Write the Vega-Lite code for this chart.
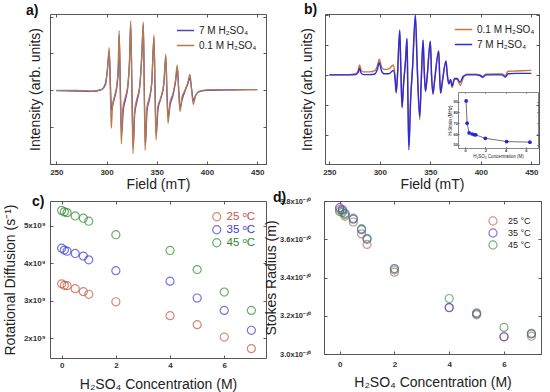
{
  "$schema": "https://vega.github.io/schema/vega-lite/v6.json",
  "background": "white",
  "padding": {"left": 3, "top": 3, "right": 5, "bottom": 3},
  "config": {
    "font": "Liberation Sans",
    "view": {"stroke": null},
    "axis": {"grid": false, "labelFont": "Liberation Sans", "labelFontSize": 8, "labelFontWeight": "bold", "labelColor": "#333", "titleFont": "Liberation Sans", "titleFontSize": 14, "titleFontWeight": "normal", "titleColor": "#222"},
    "legend": {"padding": 0, "title": null, "labelFont": "Liberation Sans"},
    "title": {"fontSize": 14, "fontWeight": "bold", "anchor": "start", "frame": "group", "color": "#111", "font": "Liberation Sans"}
  },
  "datasets": {
    "specA": [
      {"f":250,"v":-0.01,"s":"7 M H₂SO₄"},{"f":270,"v":-0.02,"s":"7 M H₂SO₄"},{"f":285,"v":-0.03,"s":"7 M H₂SO₄"},{"f":295,"v":0.02,"s":"7 M H₂SO₄"},{"f":299,"v":0.2,"s":"7 M H₂SO₄"},{"f":301,"v":0.6,"s":"7 M H₂SO₄"},{"f":302.7,"v":1.05,"s":"7 M H₂SO₄"},{"f":303.8,"v":0.2,"s":"7 M H₂SO₄"},{"f":305,"v":-0.55,"s":"7 M H₂SO₄"},{"f":306.5,"v":-0.35,"s":"7 M H₂SO₄"},{"f":308.5,"v":-0.15,"s":"7 M H₂SO₄"},{"f":310.5,"v":0.15,"s":"7 M H₂SO₄"},{"f":311.8,"v":0.6,"s":"7 M H₂SO₄"},{"f":312.6,"v":1.5,"s":"7 M H₂SO₄"},{"f":313.8,"v":0,"s":"7 M H₂SO₄"},{"f":315,"v":-1.2,"s":"7 M H₂SO₄"},{"f":316.6,"v":-0.55,"s":"7 M H₂SO₄"},{"f":318.8,"v":-0.25,"s":"7 M H₂SO₄"},{"f":321.2,"v":0.1,"s":"7 M H₂SO₄"},{"f":322.9,"v":0.8,"s":"7 M H₂SO₄"},{"f":324,"v":1.8,"s":"7 M H₂SO₄"},{"f":325.3,"v":0,"s":"7 M H₂SO₄"},{"f":326.5,"v":-1.55,"s":"7 M H₂SO₄"},{"f":328,"v":-0.65,"s":"7 M H₂SO₄"},{"f":330.3,"v":-0.3,"s":"7 M H₂SO₄"},{"f":333,"v":0.1,"s":"7 M H₂SO₄"},{"f":335,"v":0.9,"s":"7 M H₂SO₄"},{"f":336.6,"v":1.78,"s":"7 M H₂SO₄"},{"f":337.6,"v":0,"s":"7 M H₂SO₄"},{"f":338.6,"v":-1.5,"s":"7 M H₂SO₄"},{"f":340.3,"v":-0.55,"s":"7 M H₂SO₄"},{"f":342.7,"v":-0.25,"s":"7 M H₂SO₄"},{"f":345,"v":0.2,"s":"7 M H₂SO₄"},{"f":347.2,"v":1.42,"s":"7 M H₂SO₄"},{"f":348.3,"v":0,"s":"7 M H₂SO₄"},{"f":349.4,"v":-1.2,"s":"7 M H₂SO₄"},{"f":351.3,"v":-0.5,"s":"7 M H₂SO₄"},{"f":354,"v":-0.22,"s":"7 M H₂SO₄"},{"f":357,"v":0.15,"s":"7 M H₂SO₄"},{"f":359,"v":0.9,"s":"7 M H₂SO₄"},{"f":360.1,"v":0,"s":"7 M H₂SO₄"},{"f":361.4,"v":-0.75,"s":"7 M H₂SO₄"},{"f":363.2,"v":-0.4,"s":"7 M H₂SO₄"},{"f":366,"v":-0.15,"s":"7 M H₂SO₄"},{"f":368.5,"v":0.2,"s":"7 M H₂SO₄"},{"f":370.5,"v":0.6,"s":"7 M H₂SO₄"},{"f":371.9,"v":0,"s":"7 M H₂SO₄"},{"f":373.3,"v":-0.48,"s":"7 M H₂SO₄"},{"f":375.2,"v":-0.25,"s":"7 M H₂SO₄"},{"f":378,"v":-0.03,"s":"7 M H₂SO₄"},{"f":380.8,"v":0.17,"s":"7 M H₂SO₄"},{"f":383,"v":0.33,"s":"7 M H₂SO₄"},{"f":384.8,"v":0,"s":"7 M H₂SO₄"},{"f":386.5,"v":-0.28,"s":"7 M H₂SO₄"},{"f":389,"v":-0.12,"s":"7 M H₂SO₄"},{"f":393,"v":-0.03,"s":"7 M H₂SO₄"},{"f":400,"v":0,"s":"7 M H₂SO₄"},{"f":420,"v":0.01,"s":"7 M H₂SO₄"},{"f":440,"v":0.02,"s":"7 M H₂SO₄"},{"f":450,"v":0.02,"s":"7 M H₂SO₄"},
      {"f":250,"v":0,"s":"0.1 M H₂SO₄"},{"f":270,"v":0,"s":"0.1 M H₂SO₄"},{"f":285,"v":-0.02,"s":"0.1 M H₂SO₄"},{"f":295,"v":0.02,"s":"0.1 M H₂SO₄"},{"f":299,"v":0.15,"s":"0.1 M H₂SO₄"},{"f":301,"v":0.6,"s":"0.1 M H₂SO₄"},{"f":302.6,"v":1.16,"s":"0.1 M H₂SO₄"},{"f":303.6,"v":0.2,"s":"0.1 M H₂SO₄"},{"f":304.7,"v":-1.03,"s":"0.1 M H₂SO₄"},{"f":306,"v":-0.4,"s":"0.1 M H₂SO₄"},{"f":308,"v":-0.15,"s":"0.1 M H₂SO₄"},{"f":310,"v":0.1,"s":"0.1 M H₂SO₄"},{"f":311.5,"v":0.6,"s":"0.1 M H₂SO₄"},{"f":312.5,"v":1.62,"s":"0.1 M H₂SO₄"},{"f":313.6,"v":0,"s":"0.1 M H₂SO₄"},{"f":314.7,"v":-1.45,"s":"0.1 M H₂SO₄"},{"f":316.2,"v":-0.5,"s":"0.1 M H₂SO₄"},{"f":318.5,"v":-0.2,"s":"0.1 M H₂SO₄"},{"f":321,"v":0.1,"s":"0.1 M H₂SO₄"},{"f":322.8,"v":0.8,"s":"0.1 M H₂SO₄"},{"f":324,"v":1.88,"s":"0.1 M H₂SO₄"},{"f":325.2,"v":0,"s":"0.1 M H₂SO₄"},{"f":326.3,"v":-1.72,"s":"0.1 M H₂SO₄"},{"f":327.8,"v":-0.6,"s":"0.1 M H₂SO₄"},{"f":330,"v":-0.25,"s":"0.1 M H₂SO₄"},{"f":333,"v":0.1,"s":"0.1 M H₂SO₄"},{"f":335,"v":0.9,"s":"0.1 M H₂SO₄"},{"f":336.6,"v":1.85,"s":"0.1 M H₂SO₄"},{"f":337.5,"v":0,"s":"0.1 M H₂SO₄"},{"f":338.4,"v":-1.63,"s":"0.1 M H₂SO₄"},{"f":340,"v":-0.5,"s":"0.1 M H₂SO₄"},{"f":342.5,"v":-0.2,"s":"0.1 M H₂SO₄"},{"f":345,"v":0.2,"s":"0.1 M H₂SO₄"},{"f":347.2,"v":1.5,"s":"0.1 M H₂SO₄"},{"f":348.2,"v":0,"s":"0.1 M H₂SO₄"},{"f":349.2,"v":-1.35,"s":"0.1 M H₂SO₄"},{"f":351,"v":-0.45,"s":"0.1 M H₂SO₄"},{"f":354,"v":-0.2,"s":"0.1 M H₂SO₄"},{"f":357,"v":0.2,"s":"0.1 M H₂SO₄"},{"f":359,"v":0.98,"s":"0.1 M H₂SO₄"},{"f":360,"v":0,"s":"0.1 M H₂SO₄"},{"f":361.2,"v":-0.9,"s":"0.1 M H₂SO₄"},{"f":363,"v":-0.35,"s":"0.1 M H₂SO₄"},{"f":366,"v":-0.1,"s":"0.1 M H₂SO₄"},{"f":368.5,"v":0.25,"s":"0.1 M H₂SO₄"},{"f":370.4,"v":0.69,"s":"0.1 M H₂SO₄"},{"f":371.7,"v":0,"s":"0.1 M H₂SO₄"},{"f":373.1,"v":-0.58,"s":"0.1 M H₂SO₄"},{"f":375,"v":-0.2,"s":"0.1 M H₂SO₄"},{"f":378,"v":0,"s":"0.1 M H₂SO₄"},{"f":380.8,"v":0.2,"s":"0.1 M H₂SO₄"},{"f":383,"v":0.43,"s":"0.1 M H₂SO₄"},{"f":384.7,"v":0,"s":"0.1 M H₂SO₄"},{"f":386.3,"v":-0.38,"s":"0.1 M H₂SO₄"},{"f":388.5,"v":-0.15,"s":"0.1 M H₂SO₄"},{"f":392,"v":-0.03,"s":"0.1 M H₂SO₄"},{"f":400,"v":0.01,"s":"0.1 M H₂SO₄"},{"f":420,"v":0.01,"s":"0.1 M H₂SO₄"},{"f":440,"v":0.02,"s":"0.1 M H₂SO₄"},{"f":450,"v":0.02,"s":"0.1 M H₂SO₄"}
    ],
    "specB": [
      {"f":250,"v":0,"s":"0.1 M H₂SO₄"},{"f":270,"v":0.01,"s":"0.1 M H₂SO₄"},{"f":276,"v":0.04,"s":"0.1 M H₂SO₄"},{"f":278.5,"v":0.15,"s":"0.1 M H₂SO₄"},{"f":280,"v":0.33,"s":"0.1 M H₂SO₄"},{"f":281.5,"v":0.15,"s":"0.1 M H₂SO₄"},{"f":284,"v":0.1,"s":"0.1 M H₂SO₄"},{"f":290,"v":0.1,"s":"0.1 M H₂SO₄"},{"f":295,"v":0.14,"s":"0.1 M H₂SO₄"},{"f":297.5,"v":0.3,"s":"0.1 M H₂SO₄"},{"f":299.5,"v":0.52,"s":"0.1 M H₂SO₄"},{"f":301.5,"v":0.28,"s":"0.1 M H₂SO₄"},{"f":304,"v":0.18,"s":"0.1 M H₂SO₄"},{"f":309,"v":0.2,"s":"0.1 M H₂SO₄"},{"f":312,"v":0.3,"s":"0.1 M H₂SO₄"},{"f":313.5,"v":0.33,"s":"0.1 M H₂SO₄"},{"f":315,"v":0,"s":"0.1 M H₂SO₄"},{"f":316.2,"v":-0.55,"s":"0.1 M H₂SO₄"},{"f":317.5,"v":0,"s":"0.1 M H₂SO₄"},{"f":319.7,"v":1.47,"s":"0.1 M H₂SO₄"},{"f":320.8,"v":0.2,"s":"0.1 M H₂SO₄"},{"f":322,"v":-1.1,"s":"0.1 M H₂SO₄"},{"f":323.5,"v":-0.3,"s":"0.1 M H₂SO₄"},{"f":325.5,"v":0.5,"s":"0.1 M H₂SO₄"},{"f":326.9,"v":1.19,"s":"0.1 M H₂SO₄"},{"f":327.7,"v":-0.5,"s":"0.1 M H₂SO₄"},{"f":328.7,"v":-2.35,"s":"0.1 M H₂SO₄"},{"f":330.5,"v":-0.8,"s":"0.1 M H₂SO₄"},{"f":332.5,"v":0.3,"s":"0.1 M H₂SO₄"},{"f":335.2,"v":1.95,"s":"0.1 M H₂SO₄"},{"f":337,"v":0.3,"s":"0.1 M H₂SO₄"},{"f":339.5,"v":-1.5,"s":"0.1 M H₂SO₄"},{"f":341,"v":-0.2,"s":"0.1 M H₂SO₄"},{"f":342.8,"v":1.16,"s":"0.1 M H₂SO₄"},{"f":344,"v":0.1,"s":"0.1 M H₂SO₄"},{"f":345.2,"v":-0.55,"s":"0.1 M H₂SO₄"},{"f":347,"v":0,"s":"0.1 M H₂SO₄"},{"f":350,"v":1.11,"s":"0.1 M H₂SO₄"},{"f":351.2,"v":0,"s":"0.1 M H₂SO₄"},{"f":352.6,"v":-0.65,"s":"0.1 M H₂SO₄"},{"f":354.5,"v":-0.1,"s":"0.1 M H₂SO₄"},{"f":358.3,"v":0.8,"s":"0.1 M H₂SO₄"},{"f":359.2,"v":0,"s":"0.1 M H₂SO₄"},{"f":360.2,"v":-0.62,"s":"0.1 M H₂SO₄"},{"f":362,"v":-0.2,"s":"0.1 M H₂SO₄"},{"f":365.5,"v":0.47,"s":"0.1 M H₂SO₄"},{"f":366.8,"v":0,"s":"0.1 M H₂SO₄"},{"f":368.3,"v":-0.3,"s":"0.1 M H₂SO₄"},{"f":370,"v":-0.15,"s":"0.1 M H₂SO₄"},{"f":371.5,"v":-0.42,"s":"0.1 M H₂SO₄"},{"f":374,"v":-0.15,"s":"0.1 M H₂SO₄"},{"f":376.5,"v":-0.15,"s":"0.1 M H₂SO₄"},{"f":379.5,"v":-0.35,"s":"0.1 M H₂SO₄"},{"f":382.5,"v":-0.1,"s":"0.1 M H₂SO₄"},{"f":386,"v":0.02,"s":"0.1 M H₂SO₄"},{"f":395,"v":0.02,"s":"0.1 M H₂SO₄"},{"f":399,"v":0,"s":"0.1 M H₂SO₄"},{"f":402,"v":-0.05,"s":"0.1 M H₂SO₄"},{"f":405,"v":0.02,"s":"0.1 M H₂SO₄"},{"f":415,"v":0.03,"s":"0.1 M H₂SO₄"},{"f":421,"v":0.03,"s":"0.1 M H₂SO₄"},{"f":424.3,"v":-0.02,"s":"0.1 M H₂SO₄"},{"f":427,"v":0.12,"s":"0.1 M H₂SO₄"},{"f":435,"v":0.13,"s":"0.1 M H₂SO₄"},{"f":450,"v":0.15,"s":"0.1 M H₂SO₄"},
      {"f":250,"v":0,"s":"7 M H₂SO₄"},{"f":270,"v":0,"s":"7 M H₂SO₄"},{"f":276,"v":0.01,"s":"7 M H₂SO₄"},{"f":278.5,"v":0.08,"s":"7 M H₂SO₄"},{"f":280,"v":0.22,"s":"7 M H₂SO₄"},{"f":281.5,"v":0.06,"s":"7 M H₂SO₄"},{"f":284,"v":0.01,"s":"7 M H₂SO₄"},{"f":290,"v":0.01,"s":"7 M H₂SO₄"},{"f":295,"v":0.03,"s":"7 M H₂SO₄"},{"f":297.5,"v":0.18,"s":"7 M H₂SO₄"},{"f":299.5,"v":0.41,"s":"7 M H₂SO₄"},{"f":301.5,"v":0.15,"s":"7 M H₂SO₄"},{"f":304,"v":0.04,"s":"7 M H₂SO₄"},{"f":309,"v":0.04,"s":"7 M H₂SO₄"},{"f":312,"v":0.12,"s":"7 M H₂SO₄"},{"f":313.5,"v":0.15,"s":"7 M H₂SO₄"},{"f":315,"v":-0.1,"s":"7 M H₂SO₄"},{"f":316.2,"v":-0.6,"s":"7 M H₂SO₄"},{"f":317.5,"v":0,"s":"7 M H₂SO₄"},{"f":319.7,"v":1.5,"s":"7 M H₂SO₄"},{"f":320.8,"v":0.2,"s":"7 M H₂SO₄"},{"f":322,"v":-1.08,"s":"7 M H₂SO₄"},{"f":323.5,"v":-0.3,"s":"7 M H₂SO₄"},{"f":325.5,"v":0.5,"s":"7 M H₂SO₄"},{"f":326.9,"v":1.22,"s":"7 M H₂SO₄"},{"f":327.7,"v":-0.5,"s":"7 M H₂SO₄"},{"f":328.7,"v":-2.5,"s":"7 M H₂SO₄"},{"f":330.5,"v":-0.8,"s":"7 M H₂SO₄"},{"f":332.5,"v":0.3,"s":"7 M H₂SO₄"},{"f":335.2,"v":2.0,"s":"7 M H₂SO₄"},{"f":337,"v":0.3,"s":"7 M H₂SO₄"},{"f":339.5,"v":-1.38,"s":"7 M H₂SO₄"},{"f":341,"v":-0.2,"s":"7 M H₂SO₄"},{"f":342.8,"v":1.16,"s":"7 M H₂SO₄"},{"f":344,"v":0.1,"s":"7 M H₂SO₄"},{"f":345.2,"v":-0.55,"s":"7 M H₂SO₄"},{"f":347,"v":0,"s":"7 M H₂SO₄"},{"f":350,"v":1.12,"s":"7 M H₂SO₄"},{"f":351.2,"v":0,"s":"7 M H₂SO₄"},{"f":352.6,"v":-0.62,"s":"7 M H₂SO₄"},{"f":354.5,"v":-0.1,"s":"7 M H₂SO₄"},{"f":358.3,"v":0.8,"s":"7 M H₂SO₄"},{"f":359.2,"v":0,"s":"7 M H₂SO₄"},{"f":360.2,"v":-0.6,"s":"7 M H₂SO₄"},{"f":362,"v":-0.2,"s":"7 M H₂SO₄"},{"f":365.5,"v":0.45,"s":"7 M H₂SO₄"},{"f":366.8,"v":0,"s":"7 M H₂SO₄"},{"f":368.3,"v":-0.3,"s":"7 M H₂SO₄"},{"f":370,"v":-0.15,"s":"7 M H₂SO₄"},{"f":371.5,"v":-0.37,"s":"7 M H₂SO₄"},{"f":374,"v":-0.12,"s":"7 M H₂SO₄"},{"f":376.5,"v":-0.12,"s":"7 M H₂SO₄"},{"f":379.5,"v":-0.25,"s":"7 M H₂SO₄"},{"f":382.5,"v":-0.05,"s":"7 M H₂SO₄"},{"f":386,"v":0,"s":"7 M H₂SO₄"},{"f":395,"v":0,"s":"7 M H₂SO₄"},{"f":399,"v":-0.02,"s":"7 M H₂SO₄"},{"f":402,"v":-0.08,"s":"7 M H₂SO₄"},{"f":405,"v":0,"s":"7 M H₂SO₄"},{"f":415,"v":0,"s":"7 M H₂SO₄"},{"f":421,"v":0,"s":"7 M H₂SO₄"},{"f":424.3,"v":-0.07,"s":"7 M H₂SO₄"},{"f":427,"v":0.04,"s":"7 M H₂SO₄"},{"f":435,"v":0.05,"s":"7 M H₂SO₄"},{"f":450,"v":0.05,"s":"7 M H₂SO₄"}
    ],
    "inset": [
      {"c":0.1,"h":90.7},{"c":0.2,"h":70},{"c":0.4,"h":61},{"c":0.7,"h":60},{"c":0.9,"h":59.3},{"c":1.05,"h":59.2},{"c":2,"h":56},{"c":4.1,"h":53},{"c":6.4,"h":52.4}
    ],
    "rot": [
      {"x":0,"T":"25","r":3.45},{"x":0.1,"T":"25","r":3.41},{"x":0.2,"T":"25","r":3.40},{"x":0.5,"T":"25","r":3.32},{"x":0.8,"T":"25","r":3.24},{"x":1,"T":"25","r":3.17},{"x":2,"T":"25","r":2.97},{"x":4,"T":"25","r":2.60},{"x":5,"T":"25","r":2.36},{"x":6,"T":"25","r":2.03},{"x":7,"T":"25","r":1.72},
      {"x":0,"T":"35","r":4.40},{"x":0.1,"T":"35","r":4.35},{"x":0.2,"T":"35","r":4.32},{"x":0.5,"T":"35","r":4.26},{"x":0.8,"T":"35","r":4.19},{"x":1,"T":"35","r":4.09},{"x":2,"T":"35","r":3.80},{"x":4,"T":"35","r":3.52},{"x":5,"T":"35","r":3.07},{"x":6,"T":"35","r":2.74},{"x":7,"T":"35","r":2.21},
      {"x":0,"T":"45","r":5.41},{"x":0.1,"T":"45","r":5.37},{"x":0.2,"T":"45","r":5.35},{"x":0.5,"T":"45","r":5.26},{"x":0.8,"T":"45","r":5.20},{"x":1,"T":"45","r":5.12},{"x":2,"T":"45","r":4.76},{"x":4,"T":"45","r":4.34},{"x":5,"T":"45","r":3.83},{"x":6,"T":"45","r":3.23},{"x":7,"T":"45","r":2.74}
    ],
    "stokes": [
      {"x":0,"T":"25","s":3.755},{"x":0.1,"T":"25","s":3.748},{"x":0.2,"T":"25","s":3.72},{"x":0.5,"T":"25","s":3.69},{"x":0.8,"T":"25","s":3.628},{"x":1,"T":"25","s":3.573},{"x":2,"T":"25","s":3.428},{"x":4,"T":"25","s":3.244},{"x":5,"T":"25","s":3.205},{"x":6,"T":"25","s":3.09},{"x":7,"T":"25","s":3.093},
      {"x":0,"T":"35","s":3.765},{"x":0.1,"T":"35","s":3.755},{"x":0.2,"T":"35","s":3.735},{"x":0.5,"T":"35","s":3.705},{"x":0.8,"T":"35","s":3.65},{"x":1,"T":"35","s":3.60},{"x":2,"T":"35","s":3.447},{"x":4,"T":"35","s":3.242},{"x":5,"T":"35","s":3.21},{"x":6,"T":"35","s":3.09},{"x":7,"T":"35","s":3.105},
      {"x":0,"T":"45","s":3.745},{"x":0.1,"T":"45","s":3.74},{"x":0.2,"T":"45","s":3.728},{"x":0.5,"T":"45","s":3.71},{"x":0.8,"T":"45","s":3.655},{"x":1,"T":"45","s":3.605},{"x":2,"T":"45","s":3.44},{"x":4,"T":"45","s":3.29},{"x":5,"T":"45","s":3.215},{"x":6,"T":"45","s":3.139},{"x":7,"T":"45","s":3.108}
    ]
  },
  "spacing": 0,
  "resolve": {"scale": {"color": "independent"}, "legend": {"color": "independent"}},
  "vconcat": [
    {
      "bounds": "flush",
      "spacing": 59,
      "resolve": {"scale": {"color": "independent"}, "legend": {"color": "independent"}},
      "hconcat": [
        {
          "width": 216, "height": 150,
          "title": {"text": "a)", "dx": -24, "offset": -4},
          "layer": [
            {
              "data": {"name": "specA"},
              "mark": {"type": "line", "strokeWidth": 1.3, "interpolate": "monotone"},
              "encoding": {
                "x": {"field": "f", "type": "quantitative", "scale": {"domain": [243.7, 458.7], "nice": false, "zero": false}, "axis": {"orient": "bottom", "offset": 0, "domain": true, "domainColor": "#444", "domainWidth": 0.9, "ticks": true, "tickColor": "#444", "tickWidth": 0.9, "tickSize": -3, "values": [250, 300, 350, 400, 450], "title": "Field (mT)", "labelPadding": 7, "titlePadding": 1}},
                "y": {"field": "v", "type": "quantitative", "scale": {"domain": [-2.0, 2.07], "nice": false, "zero": false}, "axis": {"orient": "left", "offset": 0, "domain": true, "domainColor": "#444", "domainWidth": 0.9, "ticks": true, "tickColor": "#444", "tickWidth": 0.9, "tickSize": -3, "values": [-2, -1, 0, 1, 2], "labels": false, "title": "Intensity (arb. units)", "titlePadding": 7}},
                "color": {"field": "s", "type": "nominal", "sort": null, "scale": {"domain": ["7 M H₂SO₄", "0.1 M H₂SO₄"], "range": ["#5540c0", "#b47a4c"]}, "legend": {"orient": "none", "legendX": 126, "legendY": 7, "symbolType": "stroke", "symbolSize": 300, "symbolStrokeWidth": 1.5, "labelFontSize": 10, "labelColor": "#222", "rowPadding": -7, "labelOffset": 4}}
              }
            },
            {
              "data": {"name": "specA"},
              "mark": {"type": "line", "opacity": 0},
              "encoding": {
                "x": {"field": "f", "type": "quantitative", "scale": {"domain": [243.7, 458.7], "nice": false, "zero": false}, "axis": {"orient": "top", "offset": 0, "domain": true, "domainColor": "#444", "domainWidth": 0.9, "ticks": true, "tickColor": "#444", "tickWidth": 0.9, "tickSize": -3, "values": [250, 300, 350, 400, 450], "labels": false, "title": null}},
                "y": {"field": "v", "type": "quantitative", "scale": {"domain": [-2.0, 2.07], "nice": false, "zero": false}, "axis": {"orient": "right", "offset": 0, "domain": true, "domainColor": "#444", "domainWidth": 0.9, "ticks": true, "tickColor": "#444", "tickWidth": 0.9, "tickSize": -3, "values": [-2, -1, 0, 1, 2], "labels": false, "title": null}}
              }
            }
          ],
          "resolve": {"scale": {"x": "independent", "y": "independent"}}
        },
        {
          "width": 214, "height": 150,
          "title": {"text": "b)", "dx": -21, "offset": -5},
          "layer": [
            {
              "data": {"name": "specB"},
              "mark": {"type": "line", "strokeWidth": 1.4, "interpolate": "monotone"},
              "encoding": {
                "x": {"field": "f", "type": "quantitative", "scale": {"domain": [245.7, 457.6], "nice": false, "zero": false}, "axis": {"orient": "bottom", "offset": 0, "domain": true, "domainColor": "#444", "domainWidth": 0.9, "ticks": true, "tickColor": "#444", "tickWidth": 0.9, "tickSize": -3, "values": [250, 300, 350, 400, 450], "title": "Field (mT)", "labelPadding": 7, "titlePadding": 1}},
                "y": {"field": "v", "type": "quantitative", "scale": {"domain": [-2.97, 2.03], "nice": false, "zero": false}, "axis": {"orient": "left", "offset": 0, "domain": true, "domainColor": "#444", "domainWidth": 0.9, "ticks": true, "tickColor": "#444", "tickWidth": 0.9, "tickSize": -3, "values": [-2, -1, 0, 1, 2], "labels": false, "title": "Intensity (arb. units)", "titlePadding": 10}},
                "color": {"field": "s", "type": "nominal", "sort": null, "scale": {"domain": ["0.1 M H₂SO₄", "7 M H₂SO₄"], "range": ["#c8763a", "#2b2be0"]}, "legend": {"orient": "none", "legendX": 129, "legendY": 6, "symbolType": "stroke", "symbolSize": 300, "symbolStrokeWidth": 1.5, "labelFontSize": 10, "labelColor": "#222", "rowPadding": -5.5, "labelOffset": 4}}
              }
            },
            {
              "data": {"name": "specB"},
              "mark": {"type": "line", "opacity": 0},
              "encoding": {
                "x": {"field": "f", "type": "quantitative", "scale": {"domain": [245.7, 457.6], "nice": false, "zero": false}, "axis": {"orient": "top", "offset": 0, "domain": true, "domainColor": "#444", "domainWidth": 0.9, "ticks": true, "tickColor": "#444", "tickWidth": 0.9, "tickSize": -3, "values": [250, 300, 350, 400, 450], "labels": false, "title": null}},
                "y": {"field": "v", "type": "quantitative", "scale": {"domain": [-2.97, 2.03], "nice": false, "zero": false}, "axis": {"orient": "right", "offset": 0, "domain": true, "domainColor": "#444", "domainWidth": 0.9, "ticks": true, "tickColor": "#444", "tickWidth": 0.9, "tickSize": -3, "values": [-2, -1, 0, 1, 2], "labels": false, "title": null}}
              }
            },
            {
              "data": {"name": "inset"},
              "mark": {"type": "line", "color": "#333", "strokeWidth": 0.7},
              "encoding": {
                "x": {"field": "c", "type": "quantitative", "scale": {"domain": [-0.7, 7.2], "range": [133, 213], "nice": false, "zero": false}, "axis": {"orient": "bottom", "offset": -16, "values": [0, 2, 4, 6], "domain": true, "domainColor": "#555", "domainWidth": 0.7, "ticks": true, "tickColor": "#555", "tickWidth": 0.6, "tickSize": -1.5, "labelPadding": 2, "labelFontSize": 4, "title": "H₂SO₄ Concentration (M)", "titleFontSize": 4.5, "titlePadding": 1}},
                "y": {"field": "h", "type": "quantitative", "scale": {"domain": [47, 99], "range": [134, 78], "nice": false, "zero": false}, "axis": {"orient": "left", "offset": -133, "values": [50, 60, 70, 80, 90], "domain": true, "domainColor": "#555", "domainWidth": 0.7, "ticks": true, "tickColor": "#555", "tickWidth": 0.6, "tickSize": -1.5, "labelPadding": 2, "labelFontSize": 4, "title": "H-Strain (MHz)", "titleFontSize": 4.5, "titlePadding": 1}}
              }
            },
            {
              "data": {"name": "inset"},
              "mark": {"type": "point", "filled": true, "color": "#2424e0", "size": 14, "opacity": 1},
              "encoding": {
                "x": {"field": "c", "type": "quantitative", "scale": {"domain": [-0.7, 7.2], "range": [133, 213], "nice": false, "zero": false}, "axis": {"orient": "top", "offset": -78, "values": [0, 2, 4, 6], "domain": true, "domainColor": "#555", "domainWidth": 0.7, "ticks": true, "tickColor": "#555", "tickWidth": 0.6, "tickSize": -1.5, "labels": false, "title": null}},
                "y": {"field": "h", "type": "quantitative", "scale": {"domain": [47, 99], "range": [134, 78], "nice": false, "zero": false}, "axis": {"orient": "right", "offset": -1, "values": [50, 60, 70, 80, 90], "domain": true, "domainColor": "#555", "domainWidth": 0.7, "ticks": true, "tickColor": "#555", "tickWidth": 0.6, "tickSize": -1.5, "labels": false, "title": null}}
              }
            }
          ],
          "resolve": {"scale": {"x": "independent", "y": "independent"}}
        }
      ]
    },
    {
      "bounds": "flush",
      "spacing": 58,
      "resolve": {"scale": {"color": "independent"}, "legend": {"color": "independent"}},
      "hconcat": [
        {
          "width": 216, "height": 157,
          "title": {"text": "c)", "dx": -18, "offset": -8},
          "layer": [
            {
              "data": {"name": "rot"},
              "mark": {"type": "point", "filled": false, "size": 65, "strokeWidth": 1.2},
              "encoding": {
                "x": {"field": "x", "type": "quantitative", "scale": {"domain": [-0.43, 7.54], "nice": false, "zero": false}, "axis": {"orient": "bottom", "offset": 0, "domain": true, "domainColor": "#444", "domainWidth": 0.9, "ticks": true, "tickColor": "#444", "tickWidth": 0.9, "tickSize": -3, "values": [0, 2, 4, 6], "title": "H₂SO₄ Concentration (M)", "labelPadding": 6, "titlePadding": 8}},
                "y": {"field": "r", "type": "quantitative", "scale": {"domain": [1.47, 5.66], "nice": false, "zero": false}, "axis": {"orient": "left", "offset": 0, "domain": true, "domainColor": "#444", "domainWidth": 0.9, "ticks": true, "tickColor": "#444", "tickWidth": 0.9, "tickSize": -3, "values": [2, 3, 4, 5], "labelExpr": "datum.value + 'x10⁹'", "title": "Rotational Diffusion (s⁻¹)", "labelPadding": 8, "titlePadding": 6}},
                "color": {"field": "T", "type": "nominal", "scale": {"domain": ["25", "35", "45"], "range": ["#c0583f", "#3a3ad8", "#2e8b2e"]}, "legend": {"orient": "none", "legendX": 161, "legendY": 10, "symbolType": "circle", "symbolSize": 65, "symbolStrokeWidth": 1.2, "labelFontSize": 11.5, "labelExpr": "datum.label + ' ᵒC'", "labelColor": {"expr": "datum.value == '25' ? '#c0583f' : datum.value == '35' ? '#3a3ad8' : '#2e8b2e'"}, "rowPadding": -4, "labelOffset": 4}}
              }
            },
            {
              "data": {"name": "rot"},
              "mark": {"type": "point", "opacity": 0},
              "encoding": {
                "x": {"field": "x", "type": "quantitative", "scale": {"domain": [-0.43, 7.54], "nice": false, "zero": false}, "axis": {"orient": "top", "offset": 0, "domain": true, "domainColor": "#444", "domainWidth": 0.9, "ticks": true, "tickColor": "#444", "tickWidth": 0.9, "tickSize": -3, "values": [0, 2, 4, 6], "labels": false, "title": null}},
                "y": {"field": "r", "type": "quantitative", "scale": {"domain": [1.47, 5.66], "nice": false, "zero": false}, "axis": {"orient": "right", "offset": 0, "domain": true, "domainColor": "#444", "domainWidth": 0.9, "ticks": true, "tickColor": "#444", "tickWidth": 0.9, "tickSize": -3, "values": [2, 3, 4, 5], "labels": false, "title": null}}
              }
            }
          ],
          "resolve": {"scale": {"x": "independent", "y": "independent"}}
        },
        {
          "width": 217, "height": 153,
          "title": {"text": "d)", "dx": -51, "offset": -8},
          "layer": [
            {
              "data": {"name": "stokes"},
              "mark": {"type": "point", "filled": false, "size": 65, "strokeWidth": 1.2},
              "encoding": {
                "x": {"field": "x", "type": "quantitative", "scale": {"domain": [-0.57, 7.35], "nice": false, "zero": false}, "axis": {"orient": "bottom", "offset": 0, "domain": true, "domainColor": "#444", "domainWidth": 0.9, "ticks": true, "tickColor": "#444", "tickWidth": 0.9, "tickSize": -3, "values": [0, 2, 4, 6], "title": "H₂SO₄ Concentration (M)", "labelPadding": 9, "titlePadding": 7}},
                "y": {"field": "s", "type": "quantitative", "scale": {"domain": [3.0, 3.8], "nice": false, "zero": false}, "axis": {"orient": "left", "offset": 0, "domain": true, "domainColor": "#444", "domainWidth": 0.9, "ticks": true, "tickColor": "#444", "tickWidth": 0.9, "tickSize": -3, "values": [3.0, 3.2, 3.4, 3.6, 3.8], "labelExpr": "format(datum.value, '.1f') + 'x10⁻¹⁰'", "labelFontSize": 7.5, "title": "Stokes Radius (m)", "labelPadding": 16, "titlePadding": 1}},
                "color": {"field": "T", "type": "nominal", "scale": {"domain": ["25", "35", "45"], "range": ["#c8684f", "#4b3fe0", "#3b9a45"]}, "legend": {"orient": "none", "legendX": 164, "legendY": 15, "symbolType": "circle", "symbolSize": 65, "symbolStrokeWidth": 1.2, "labelFontSize": 9, "labelExpr": "datum.label + ' °C'", "labelColor": "#222", "rowPadding": -7.5, "labelOffset": 10}}
              }
            },
            {
              "data": {"name": "stokes"},
              "mark": {"type": "point", "opacity": 0},
              "encoding": {
                "x": {"field": "x", "type": "quantitative", "scale": {"domain": [-0.57, 7.35], "nice": false, "zero": false}, "axis": {"orient": "top", "offset": 0, "domain": true, "domainColor": "#444", "domainWidth": 0.9, "ticks": true, "tickColor": "#444", "tickWidth": 0.9, "tickSize": -3, "values": [0, 2, 4, 6], "labels": false, "title": null}},
                "y": {"field": "s", "type": "quantitative", "scale": {"domain": [3.0, 3.8], "nice": false, "zero": false}, "axis": {"orient": "right", "offset": 0, "domain": true, "domainColor": "#444", "domainWidth": 0.9, "ticks": true, "tickColor": "#444", "tickWidth": 0.9, "tickSize": -3, "values": [3.0, 3.2, 3.4, 3.6, 3.8], "labels": false, "title": null}}
              }
            }
          ],
          "resolve": {"scale": {"x": "independent", "y": "independent"}}
        }
      ]
    }
  ]
}
